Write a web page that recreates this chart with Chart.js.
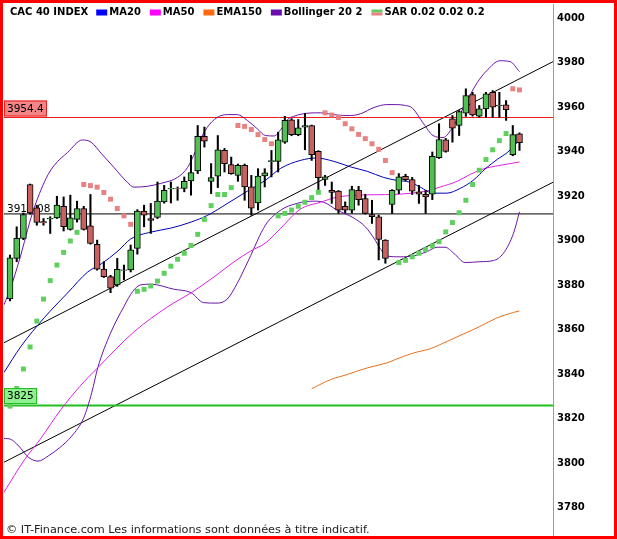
<!DOCTYPE html>
<html>
<head>
<meta charset="utf-8">
<script src="https://cdn.jsdelivr.net/npm/chart.js@4.4.1/dist/chart.umd.min.js"></script>
<style>
  html, body { margin: 0; padding: 0; background: #fff; }
  #wrap { width: 617px; height: 539px; }
</style>
</head>
<body>
<div id="wrap"><canvas id="chart" width="617" height="539"></canvas></div>
<script>
// Daily CAC 40 sessions, oldest first
const opens = [3872.9,3891.1,3900.1,3924.3,3913.8,3907.6,3908.8,3909.3,3914.5,3904.1,
  3908.6,3913.5,3905.7,3897.4,3886.3,3882.9,3879.2,3885.7,3885.9,3895.6,
  3912.3,3909.0,3909.5,3916.5,3922.3,3922.5,3922.5,3925.9,3930.4,3945.9,
  3925.7,3928.0,3939.6,3933.2,3928.4,3932.9,3923.2,3916.0,3928.1,3934.6,
  3934.7,3943.3,3953.4,3946.7,3950.1,3950.8,3939.2,3926.6,3921.7,3921.3,
  3914.5,3912.8,3921.7,3918.0,3910.8,3909.8,3899.3,3915.3,3921.7,3928.0,
  3926.5,3921.0,3919.9,3919.9,3936.4,3944.4,3953.8,3950.8,3956.3,3964.7,
  3955.0,3958.3,3965.7,3959.6,3960.1,3937.7,3947.1];
const highs = [3892.6,3905.3,3911.5,3924.5,3915.0,3909.0,3909.8,3919.0,3918.7,3919.5,
  3916.8,3914.5,3919.8,3899.3,3889.6,3883.5,3891.1,3888.1,3897.1,3913.0,
  3915.0,3915.8,3925.4,3923.9,3925.4,3923.2,3927.7,3937.4,3950.8,3950.1,
  3933.7,3946.3,3940.5,3936.6,3933.5,3933.5,3928.4,3931.4,3931.4,3939.6,
  3947.8,3954.9,3953.9,3953.5,3956.3,3951.0,3939.5,3928.4,3925.4,3921.6,
  3916.5,3923.5,3923.5,3919.9,3917.2,3910.5,3899.5,3922.0,3929.2,3928.9,
  3927.5,3923.9,3921.7,3938.9,3951.6,3945.0,3955.3,3957.5,3967.3,3965.7,
  3959.8,3965.7,3966.5,3965.7,3962.0,3950.8,3947.5];
const lows = [3872.0,3889.6,3899.5,3911.0,3906.0,3906.0,3902.3,3909.0,3903.4,3903.8,
  3907.4,3903.8,3897.5,3885.8,3882.5,3875.7,3878.5,3881.4,3885.0,3893.0,
  3905.3,3902.3,3909.0,3915.9,3916.0,3917.2,3921.0,3919.5,3929.2,3941.1,
  3920.2,3922.9,3929.9,3928.9,3925.7,3917.2,3910.5,3912.8,3923.2,3927.7,
  3929.9,3942.8,3946.2,3946.2,3939.9,3935.1,3922.0,3923.9,3915.8,3911.3,
  3911.5,3911.5,3915.0,3911.0,3906.8,3890.4,3888.9,3911.3,3920.2,3926.0,
  3919.8,3915.8,3911.3,3917.5,3936.0,3938.8,3943.3,3946.3,3954.9,3955.0,
  3954.5,3954.5,3954.5,3954.5,3953.1,3937.2,3939.6];
const closes = [3891.3,3900.1,3910.8,3911.5,3907.2,3907.0,3909.2,3915.0,3905.3,3909.3,
  3913.5,3904.1,3897.8,3886.2,3882.9,3877.7,3886.2,3886.0,3894.9,3912.4,
  3910.5,3908.1,3916.8,3921.7,3922.6,3922.4,3925.7,3929.6,3945.9,3943.8,
  3927.4,3939.9,3933.7,3929.2,3932.9,3923.2,3913.7,3928.1,3929.5,3935.0,
  3944.4,3953.1,3946.7,3949.8,3950.8,3937.7,3927.4,3927.7,3920.7,3912.8,
  3912.8,3922.0,3917.5,3911.3,3909.8,3899.6,3891.1,3921.7,3927.7,3926.5,
  3921.3,3919.9,3918.7,3936.9,3944.5,3939.2,3949.6,3957.1,3964.3,3955.6,
  3958.3,3965.0,3959.0,3960.0,3957.9,3946.7,3943.1];

// Parabolic SAR, one dot per session
const sar = [3824.7,3832.6,3841.4,3851.3,3862.9,3872.8,3881.1,3888.1,3893.8,3898.9,
  3902.8,3924.3,3923.8,3923.1,3920.7,3917.7,3913.5,3910.2,3906.4,3876.3,
  3877.2,3878.7,3880.9,3884.4,3887.6,3890.7,3893.4,3896.9,3901.9,3908.6,
  3914.8,3919.8,3919.8,3922.9,3950.8,3950.4,3949.0,3946.7,3944.5,3942.6,
  3910.2,3911.3,3912.8,3914.5,3916.3,3918.4,3920.8,3956.5,3955.5,3954.4,
  3951.6,3949.3,3946.8,3944.9,3942.6,3940.1,3935.1,3929.6,3889.2,3890.2,
  3891.8,3893.4,3895.0,3896.7,3898.6,3903.0,3907.2,3911.6,3917.2,3924.3,
  3930.7,3935.5,3939.9,3944.0,3947.2,3967.3,3966.8];

// Indicator curves, sampled at session positions
const ma20At = [-0.9,1.6,5.1,8.6,11.6,13.6,16.1,18.0,21.0,24.0,27.0,29.5,32.5,35.4,38.1,40.4,43.3,45.7,48.3,50.8,53.3,55.7,57.6,59.7,61.2,63.1,65.1,67.2,69.1,71.0,72.7,74.2,76];
const ma20 = [3839.8,3851.4,3864.4,3875.6,3885.0,3888.6,3894.4,3899.8,3902.9,3904.7,3907.4,3910.5,3915.9,3921.3,3926.2,3931.6,3935.1,3936.2,3934.7,3932.2,3930.2,3927.5,3926.2,3925.3,3923.1,3920.4,3920.4,3922.6,3926.2,3931.6,3935.6,3938.7,3944.1];

const ma50At = [-0.9,2.2,4.5,7.6,10.4,13.1,18.5,23.5,27.0,30.4,33.4,35.9,38.1,40.4,43.3,46.3,48.8,51.8,54.8,57.2,60.2,62.2,64.2,66.7,68.7,70.6,73.1,76];
const ma50 = [3786.0,3800.8,3809.8,3823.2,3833.5,3842.0,3858.1,3869.3,3875.6,3882.7,3889.5,3894.4,3898.0,3904.7,3913.2,3916.3,3918.6,3919.5,3919.7,3919.8,3920.5,3921.4,3923.2,3925.7,3928.9,3931.3,3932.9,3934.4];

const ema150At = [45,47.8,50.3,53.3,56.2,57.7,60.2,62.7,65.2,67.7,70.1,72.6,75.1,76];
const ema150 = [3832.5,3836.6,3838.9,3841.9,3844.1,3845.9,3848.6,3850.5,3853.8,3857.2,3860.5,3864.3,3866.8,3867.5];

const bollUpAt = [-0.9,0.1,1.4,3.4,5.4,6.6,8.6,10.8,12.1,13.6,15.5,17.5,18.5,20.5,22.5,25.0,26.5,27.4,28.4,29.4,
  30.9,32.4,33.9,35.4,36.9,38.1,39.4,40.4,41.4,42.3,43.8,46.3,48.8,50.8,52.3,54.3,56.2,57.6,59.0,60.0,
  61.7,63.1,64.6,66.1,68.2,69.7,71.1,73.1,74.6,76];
const bollUp = [3870.2,3877.8,3890.4,3911.9,3927.1,3932.9,3938.7,3944.3,3943.3,3938.3,3932.0,3925.3,3923.1,3923.5,3924.8,3927.5,3932.0,3937.4,3944.5,3949.9,
  3954.4,3955.7,3955.7,3953.1,3949.3,3946.3,3946.1,3949.0,3953.5,3954.9,3956.1,3956.5,3955.5,3955.3,3956.1,3958.9,3960.2,3960.2,3959.8,3958.7,
  3951.6,3946.3,3945.4,3950.4,3962.0,3970.1,3975.4,3979.9,3979.5,3975.0];

const bollLowAt = [-0.9,0.1,1.3,2.8,4.2,5.7,7.4,9.2,11.0,12.2,13.1,15.0,17.0,18.3,19.5,21.0,24.5,27.0,28.9,30.9,
  32.4,33.9,35.6,38.1,40.4,42.8,45.3,46.8,48.8,51.3,53.0,54.3,55.2,56.2,58.2,60.2,62.2,63.7,64.9,66.2,
  67.9,70.1,72.1,73.6,75.1,76];
const bollLow = [3810.2,3809.8,3806.8,3801.6,3800.0,3802.3,3806.0,3811.2,3819.5,3830.8,3842.0,3857.5,3869.5,3876.2,3879.2,3879.5,3877.2,3875.7,3871.2,3871.0,
  3872.8,3879.9,3890.4,3906.0,3912.8,3915.8,3916.8,3916.3,3912.8,3909.2,3905.3,3900.1,3895.6,3892.2,3891.8,3892.2,3894.1,3896.1,3896.1,3893.4,
  3889.2,3889.6,3890.1,3893.4,3902.3,3912.0];

// Horizontal levels and trend channel (value at left edge, value at right edge)
const levels = [3954.4, 3911.08, 3825];
const levelLabels = ['3954.4', '3911.08', '3825'];
const trendUpper = [3853.2, 3979.5];
const trendLower = [3799.5, 3925.3];

const yTicks = [3780, 3800, 3820, 3840, 3860, 3880, 3900, 3920, 3940, 3960, 3980, 4000];
const title = 'CAC 40 INDEX';
const seriesNames = ['MA20', 'MA50', 'EMA150', 'Bollinger 20 2', 'SAR 0.02 0.02 0.2'];
const footer = '\u00a9 IT-Finance.com Les informations sont donn\u00e9es \u00e0 titre indicatif.';

// visible window
const xMin = -0.894, xMax = 81.0;
const yMin = 3766.8, yMax = 4005.4;

const UP = '#52bf52', DOWN = '#c86262';
const SAR_UP = '#5fcf5f', SAR_DOWN = '#e88282';
const C_MA20 = '#0000b4', C_MA50 = '#e020e0', C_EMA = '#e8701c', C_BOLL = '#6a14a8';
const swatches = ['#0000ff', '#ff00ff', '#ff6a13', '#6a0dad', null];

const sessions = closes.map((_, i) => i);

function curve(at, vals, color) {
    return {
        type: 'line',
        data: at.map((x, k) => ({ x, y: vals[k] })),
        borderColor: color,
        borderWidth: 1,
        pointRadius: 0,
        cubicInterpolationMode: 'monotone',
        fill: false,
        order: 3
    };
}

function straight(v0, v1, color, width) {
    return {
        type: 'line',
        data: [{ x: xMin, y: v0 }, { x: xMax, y: v1 }],
        borderColor: color,
        borderWidth: width,
        pointRadius: 0,
        tension: 0,
        fill: false,
        order: 4
    };
}

const overlay = {
    id: 'overlay',
    beforeDatasetsDraw(chart) {
        // 3911.08 label lies under the candles
        const { ctx, chartArea, scales: { y } } = chart;
        ctx.save();
        ctx.font = '10.5px "DejaVu Sans"';
        ctx.fillStyle = '#000';
        ctx.textBaseline = 'bottom';
        ctx.fillText(levelLabels[1], chartArea.left + 3, y.getPixelForValue(levels[1]) + 0.5);
        ctx.restore();
    },
    afterDatasetsDraw(chart) {
        const { ctx, chartArea, scales: { y } } = chart;
        const boxes = [
            { k: 0, fill: '#f28585', stroke: '#ee1c1c', lw: 1 },
            { k: 2, fill: '#8ef08e', stroke: '#22bb22', lw: 2 }
        ];
        ctx.save();
        ctx.font = '10.5px "DejaVu Sans"';
        ctx.textBaseline = 'middle';
        boxes.forEach(b => {
            const py = Math.round(y.getPixelForValue(levels[b.k]));
            const w = Math.ceil(ctx.measureText(levelLabels[b.k]).width) + 6;
            const top = py - b.lw / 2 - 16;
            ctx.fillStyle = b.fill;
            ctx.fillRect(chartArea.left, top, w, 16);
            ctx.strokeStyle = b.stroke;
            ctx.lineWidth = 1;
            ctx.strokeRect(chartArea.left + 0.5, top + 0.5, w - 1, 15);
            ctx.fillStyle = '#000';
            ctx.fillText(levelLabels[b.k], chartArea.left + 3, top + 8.5);
        });
        ctx.restore();
    },
    afterDraw(chart) {
        const { ctx } = chart;
        ctx.save();
        // legend row
        ctx.font = 'bold 10px "DejaVu Sans"';
        ctx.textBaseline = 'middle';
        ctx.fillStyle = '#000';
        let x = 10;
        const cy = 12.5;
        ctx.fillText(title, x, cy);
        x += ctx.measureText(title).width + 8;
        seriesNames.forEach((name, k) => {
            if (swatches[k]) {
                ctx.fillStyle = swatches[k];
                ctx.fillRect(x, cy - 3, 11, 6);
            } else {
                ctx.fillStyle = SAR_UP;
                ctx.fillRect(x, cy - 3, 11, 3);
                ctx.fillStyle = SAR_DOWN;
                ctx.fillRect(x, cy, 11, 3);
            }
            x += 13;
            ctx.fillStyle = '#000';
            ctx.fillText(name, x, cy);
            x += ctx.measureText(name).width + 9;
        });
        // footer note
        ctx.font = '10px "DejaVu Sans"';
        const fw = ctx.measureText(footer).width;
        ctx.font = (10 * 364 / fw).toFixed(2) + 'px "DejaVu Sans"';
        ctx.fillStyle = '#222';
        ctx.fillText(footer, 6, 530.5);
        // outer red frame
        ctx.strokeStyle = '#ff0000';
        ctx.lineWidth = 3;
        ctx.strokeRect(1.5, 1.5, chart.width - 3, chart.height - 3);
        ctx.restore();
    }
};

new Chart(document.getElementById('chart'), {
    type: 'line',
    data: {
        datasets: [
            {
                type: 'line',
                data: sessions.map(i => ({ x: i, y: sar[i] })),
                showLine: false,
                pointStyle: 'rect',
                pointRadius: 3.5,
                pointBorderWidth: 0,
                pointBackgroundColor: c => sar[c.dataIndex] > closes[c.dataIndex] ? SAR_DOWN : SAR_UP,
                order: 0
            },
            {
                type: 'bar',
                data: sessions.map(i => ({ x: i, y: [opens[i], closes[i]] })),
                grouped: false,
                barThickness: 6,
                backgroundColor: c => closes[c.dataIndex] >= opens[c.dataIndex] ? UP : DOWN,
                borderColor: '#000',
                borderWidth: 1,
                borderSkipped: false,
                order: 1
            },
            {
                type: 'bar',
                data: sessions.map(i => ({ x: i, y: [lows[i], highs[i]] })),
                grouped: false,
                barThickness: 1.4,
                backgroundColor: '#000',
                borderWidth: 0,
                order: 2
            },
            curve(ma20At, ma20, C_MA20),
            curve(ma50At, ma50, C_MA50),
            curve(ema150At, ema150, C_EMA),
            curve(bollUpAt, bollUp, C_BOLL),
            curve(bollLowAt, bollLow, C_BOLL),
            straight(levels[0], levels[0], '#f01818', 1),
            straight(levels[1], levels[1], '#000', 1),
            straight(levels[2], levels[2], '#1fbf1f', 2),
            straight(trendUpper[0], trendUpper[1], '#000', 1),
            straight(trendLower[0], trendLower[1], '#000', 1)
        ]
    },
    options: {
        responsive: false,
        animation: false,
        events: [],
        layout: { padding: { left: 3, right: 3, top: 3, bottom: 3 } },
        plugins: {
            legend: { display: false },
            tooltip: { enabled: false }
        },
        scales: {
            x: { type: 'linear', min: xMin, max: xMax, display: false, offset: false },
            y: {
                position: 'right',
                min: yMin,
                max: yMax,
                grid: { display: false, drawTicks: false },
                border: { display: true, color: '#9c9c9c', width: 1 },
                ticks: {
                    padding: 4,
                    labelOffset: 2,
                    color: '#000',
                    font: { family: 'DejaVu Sans', size: 10, weight: 'bold' },
                    callback: v => String(v)
                },
                afterBuildTicks: axis => { axis.ticks = yTicks.map(v => ({ value: v })); },
                afterFit: axis => {
                    axis.width = 61;
                    axis.paddingTop = 0;
                    axis.paddingBottom = 0;
                }
            }
        }
    },
    plugins: [overlay]
});
</script>
</body>
</html>
